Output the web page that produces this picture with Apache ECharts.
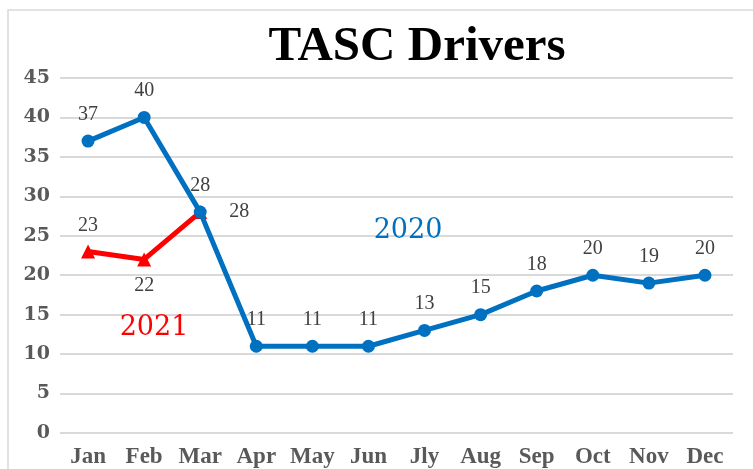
<!DOCTYPE html>
<html><head><meta charset="utf-8">
<script src="https://cdn.jsdelivr.net/npm/echarts@6/dist/echarts.min.js"></script>
<style>html,body{margin:0;padding:0;background:#fff}#c{width:753px;height:469px}</style>
</head><body><div id="c"></div>
<script>
const months = ['Jan','Feb','Mar','Apr','May','Jun','Jly','Aug','Sep','Oct','Nov','Dec'];
const values2020 = [37,40,28,11,11,11,13,15,18,20,19,20];
const values2021 = [23,22,28];
const yTicks = [0,5,10,15,20,25,30,35,40,45];

const chart = echarts.init(document.getElementById('c'));
const serif = '"Liberation Serif","DejaVu Serif",serif';
const dserif = '"DejaVu Serif","Liberation Serif",serif';
chart.setOption({
  animation:false,
  title:{text:'TASC Drivers',left:412,top:18,textAlign:'center',
    textStyle:{fontFamily:serif,fontWeight:'bold',fontSize:49,color:'#000'}},
  grid:{left:60,right:20,top:78,bottom:36,containLabel:false},
  xAxis:{type:'category',data:months,boundaryGap:true,
    axisLine:{show:false},axisTick:{show:false},
    axisLabel:{interval:0,hideOverlap:false,fontFamily:serif,fontWeight:'bold',fontSize:23,color:'#595959',margin:13}},
  yAxis:{type:'value',min:0,max:45,interval:5,
    axisLine:{show:false},axisTick:{show:false},
    splitLine:{lineStyle:{color:'#d9d9d9',width:2}},
    axisLabel:{fontFamily:dserif,fontWeight:'bold',fontSize:19,color:'#595959',margin:10,
      formatter:v=>yTicks.includes(v)?String(v):''}},
  series:[
    {name:'2020',type:'line',data:values2020,symbol:'circle',symbolSize:13,
      lineStyle:{color:'#0070C0',width:5},itemStyle:{color:'#0070C0'},z:3,
      label:{show:true,position:'top',distance:10,fontFamily:serif,fontSize:20,color:'#404040'}},
    {name:'2021',type:'line',symbol:'triangle',symbolSize:14,
      lineStyle:{color:'#FF0000',width:5},itemStyle:{color:'#FF0000'},z:2,
      label:{show:true,fontFamily:serif,fontSize:20,color:'#404040'},
      data:[
        {value:values2021[0],label:{position:'top',distance:9}},
        {value:values2021[1],label:{position:'bottom',distance:9}},
        {value:values2021[2],label:{position:'right',distance:22}}
      ]}
  ],
  graphic:{elements:[
    {type:'rect',shape:{x:8,y:10,width:760,height:480},style:{fill:'none',stroke:'#d9d9d9',lineWidth:1.5},silent:true,z:-1},
    {type:'text',x:408,y:231,z:100,style:{text:'2020',font:'27px "DejaVu Serif"',fill:'#0070C0',align:'center',verticalAlign:'middle'}},
    {type:'text',x:154,y:328,z:100,style:{text:'2021',font:'27px "DejaVu Serif"',fill:'#FF0000',align:'center',verticalAlign:'middle'}}
  ]}
});
</script></body></html>
